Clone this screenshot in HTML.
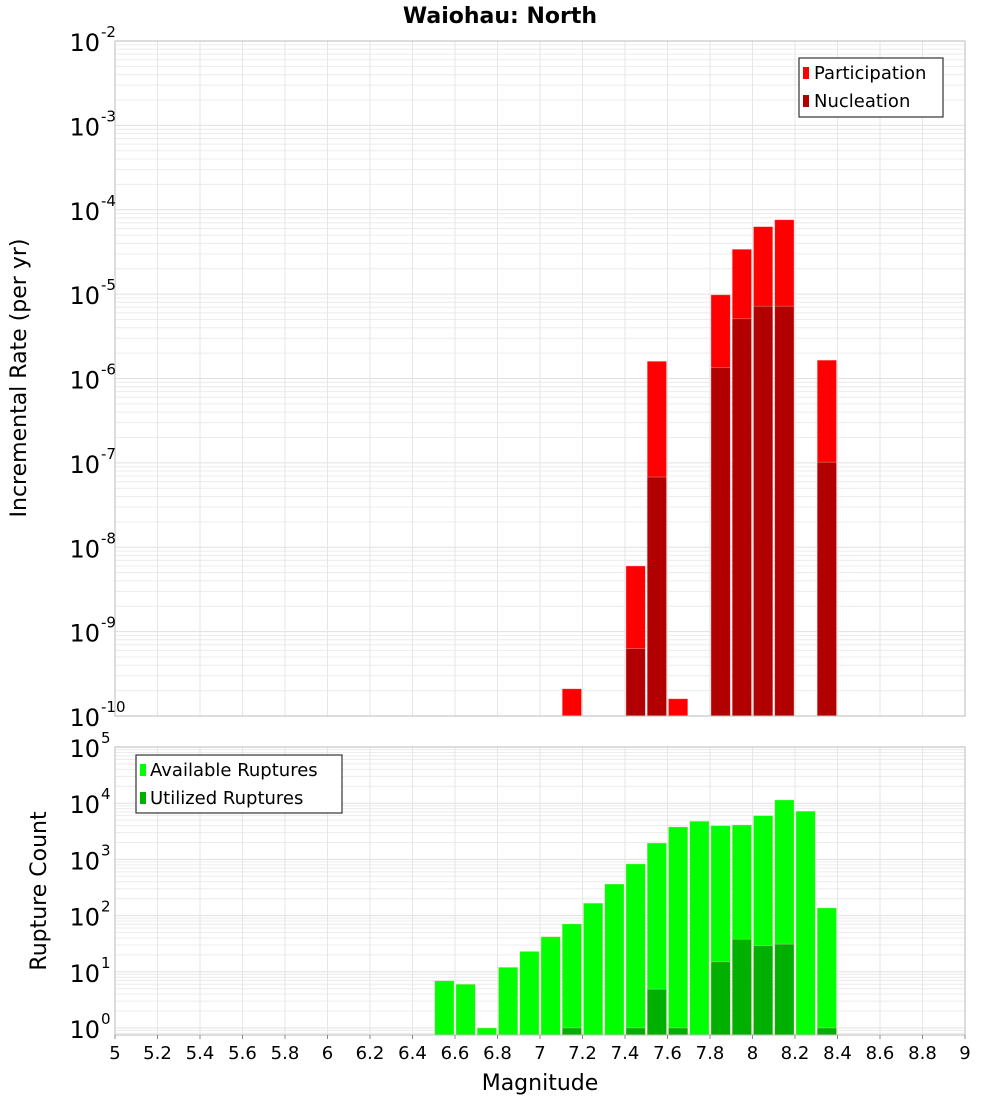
<!DOCTYPE html>
<html><head><meta charset="utf-8"><style>
body{margin:0;background:#fff;}
svg text{font-family:"DejaVu Sans","Liberation Sans",sans-serif;fill:#000;}
</style></head><body>
<svg id="c" width="1000" height="1100" xmlns="http://www.w3.org/2000/svg">
<text x="500" y="23" text-anchor="middle" font-size="22" font-weight="bold">Waiohau: North</text>
<text transform="translate(26,378) rotate(-90)" text-anchor="middle" font-size="22">Incremental Rate (per yr)</text>
<text transform="translate(46,891) rotate(-90)" text-anchor="middle" font-size="22">Rupture Count</text>
<text x="540" y="1090" text-anchor="middle" font-size="22">Magnitude</text>
<g id="top"></g><g id="bot"></g>
<g>
<rect x="799" y="58" width="144" height="59" fill="#fff" stroke="#333" stroke-width="1.2"/>
<rect x="803" y="67" width="6" height="12" fill="#ff0000"/><text x="814" y="79" font-size="18">Participation</text>
<rect x="803" y="95" width="6" height="12" fill="#b20000"/><text x="814" y="107" font-size="18">Nucleation</text>
</g>
<g>
<rect x="136" y="755" width="206" height="58" fill="#fff" stroke="#333" stroke-width="1.2"/>
<rect x="140" y="764" width="6" height="12" fill="#00ff00"/><text x="150" y="776" font-size="18">Available Ruptures</text>
<rect x="140" y="792" width="6" height="12" fill="#00b000"/><text x="150" y="804" font-size="18">Utilized Ruptures</text>
</g>
</svg>
<script>
const topMags=[7.15,7.45,7.55,7.65,7.85,7.95,8.05,8.15,8.35];
const participation=[2.1e-10,6e-9,1.6e-6,1.6e-10,9.8e-6,3.4e-5,6.3e-5,7.6e-5,1.65e-6];
const nucleation=[0,6.3e-10,6.8e-8,0,1.35e-6,5.1e-6,7.2e-6,7.2e-6,1.02e-7];
const botMags=[6.55,6.65,6.75,6.85,6.95,7.05,7.15,7.25,7.35,7.45,7.55,7.65,7.75,7.85,7.95,8.05,8.15,8.25,8.35];
const available=[6.9,6,1,12,23,42,71,166,364,830,1950,3780,4770,3980,4100,6000,11400,7200,137];
const utilized=[0,0,0,0,0,0,1,0,0,1,4.9,1,0,15,38,29,31,0,1];
const xTicks=[5,5.2,5.4,5.6,5.8,6,6.2,6.4,6.6,6.8,7,7.2,7.4,7.6,7.8,8,8.2,8.4,8.6,8.8,9];
const topExp=[-2,-3,-4,-5,-6,-7,-8,-9,-10];
const botExp=[5,4,3,2,1,0];
const NS="http://www.w3.org/2000/svg";
const X0=115,X1=965;
const xs=m=>X0+(m-5)/4*(X1-X0);
function mk(p,t,a){const e=document.createElementNS(NS,t);for(const k in a)e.setAttribute(k,a[k]);p.appendChild(e);return e;}
function panel(g,y0,y1,lmin,lmax,name){
  const ys=v=>y1-(Math.log10(v)-lmin)/(lmax-lmin)*(y1-y0);
  const bg=mk(g,'rect',{x:X0,y:y0,width:X1-X0,height:y1-y0,fill:'#fff'});
  
  
  for(let d=Math.floor(lmin);d<lmax;d++)for(let k=1;k<10;k++){
    const v=k*Math.pow(10,d);const y=ys(v);
    if(y<y0||y>y1)continue;
    mk(g,'line',{x1:X0,x2:X1,y1:y,y2:y,stroke:k==1?'#e0e0e0':'#ececec','stroke-width':1});
  }
  xTicks.forEach(t=>{const x=xs(t);mk(g,'line',{x1:x,x2:x,y1:y0,y2:y1,stroke:'#e6e6e6','stroke-width':1});});
  return ys;
}
function bars(g,mags,vals,ys,y1,col,name){
  mags.forEach((m,i)=>{
    if(!vals[i])return;
    const yt=ys(vals[i]);
    const r=mk(g,'rect',{x:xs(m-0.05)+1,y:yt,width:xs(m+0.05)-xs(m-0.05)-2,height:y1-yt,fill:col,stroke:'rgba(255,200,200,0.6)','stroke-width':0.6});
    
    
  });
}
function ylabels(g,exps,ys,name){
  exps.forEach(e=>{
    const y=ys(Math.pow(10,e));
    const t=mk(g,'text',{x:100,y:y+10,'text-anchor':'end','font-size':24});
    
    
    t.textContent='10';
    const s=mk(g,'text',{x:101,y:y-4,'font-size':15});
    s.textContent=String(e);
  });
}
const tg=document.getElementById('top');
const ysT=panel(tg,41,716,-10,-2,'top');
bars(tg,topMags,participation,ysT,716,'#ff0000','participation');
bars(tg,topMags,nucleation,ysT,716,'#b20000','nucleation');
mk(tg,'rect',{x:X0,y:41,width:X1-X0,height:675,fill:'none',stroke:'#bbb','stroke-width':1});
ylabels(tg,topExp,ysT,'top-y');
const bgp=document.getElementById('bot');
const lminB=-0.125,lmaxB=5.0;
const ysB=panel(bgp,747,1035,lminB,lmaxB+0.0,'bottom');
bars(bgp,botMags,available,ysB,1035,'#00ff00','available');
bars(bgp,botMags,utilized,ysB,1035,'#00b000','utilized');
mk(bgp,'rect',{x:X0,y:747,width:X1-X0,height:288,fill:'none',stroke:'#bbb','stroke-width':1});
ylabels(bgp,botExp,ysB,'bottom-y');
xTicks.forEach(t=>{
  const x=xs(t);
  mk(bgp,'line',{x1:x,x2:x,y1:1035,y2:1039,stroke:'#888'});
  const l=mk(bgp,'text',{x:x,y:1059,'text-anchor':'middle','font-size':18});
  
  
  l.textContent=String(t);
});
</script>
</body></html>
